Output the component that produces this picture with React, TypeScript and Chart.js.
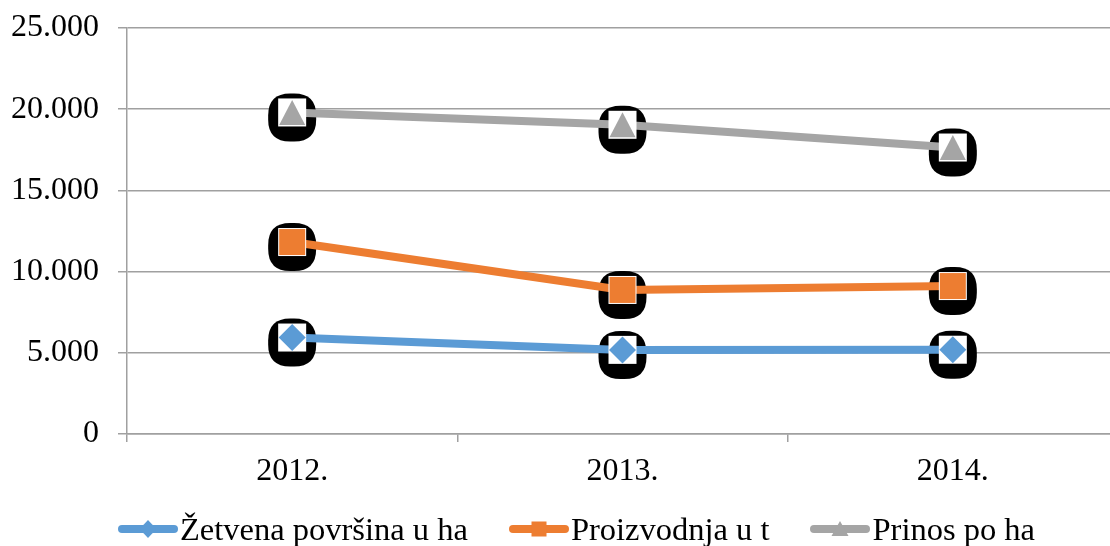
import React, { useEffect, useRef } from "react";
import { Chart, registerables } from "chart.js";

Chart.register(...registerables);

// ---- Data ----
const categories = ["2012.", "2013.", "2014."];
const zetvenaPovrsina = [5940, 5180, 5190];
const proizvodnja = [11820, 8870, 9110];
const prinos = [19800, 19040, 17640];
const yTickLabels = ["0", "5.000", "10.000", "15.000", "20.000", "25.000"];
const seriesNames = ["Žetvena površina u ha", "Proizvodnja u t", "Prinos po ha"];

// ---- Styles ----
const seriesColors = ["#5B9BD5", "#ED7D31", "#A5A5A5"];
const markerShapes = ["diamond", "square", "triangle"];
const FONT = "'Liberation Serif', 'Times New Roman', serif";
const GRID = "#a0a0a0";

function roundRectPath(ctx: CanvasRenderingContext2D, x: number, y: number, w: number, h: number, r: number) {
  ctx.beginPath();
  ctx.moveTo(x + r, y);
  ctx.lineTo(x + w - r, y);
  ctx.quadraticCurveTo(x + w, y, x + w, y + r);
  ctx.lineTo(x + w, y + h - r);
  ctx.quadraticCurveTo(x + w, y + h, x + w - r, y + h);
  ctx.lineTo(x + r, y + h);
  ctx.quadraticCurveTo(x, y + h, x, y + h - r);
  ctx.lineTo(x, y + r);
  ctx.quadraticCurveTo(x, y, x + r, y);
  ctx.closePath();
}

function drawMarker(ctx: CanvasRenderingContext2D, shape: string, x: number, y: number, color: string) {
  ctx.fillStyle = color;
  ctx.beginPath();
  if (shape === "diamond") {
    const r = 13.5;
    ctx.moveTo(x, y - r);
    ctx.lineTo(x + r, y);
    ctx.lineTo(x, y + r);
    ctx.lineTo(x - r, y);
    ctx.closePath();
  } else if (shape === "square") {
    ctx.rect(x - 13, y - 13, 26, 26);
  } else {
    ctx.moveTo(x, y - 12.5);
    ctx.lineTo(x + 13, y + 12.5);
    ctx.lineTo(x - 13, y + 12.5);
    ctx.closePath();
  }
  ctx.fill();
}

const markerPlugin = {
  id: "excelMarkers",
  beforeDatasetsDraw(chart: any) {
    const ctx: CanvasRenderingContext2D = chart.ctx;
    ctx.save();
    ctx.fillStyle = "#000";
    chart.data.datasets.forEach((_ds: any, i: number) => {
      const meta = chart.getDatasetMeta(i);
      meta.data.forEach((pt: any) => {
        roundRectPath(ctx, pt.x - 24, pt.y + 5 - 24, 48, 48, 22);
        ctx.fill();
      });
    });
    ctx.restore();
  },
  afterDatasetDraw(chart: any, args: any) {
    const ctx: CanvasRenderingContext2D = chart.ctx;
    const i = args.index;
    ctx.save();
    args.meta.data.forEach((pt: any) => {
      ctx.fillStyle = "#ffffff";
      ctx.fillRect(pt.x - 14, pt.y - 14, 28, 28);
      drawMarker(ctx, markerShapes[i], pt.x, pt.y, seriesColors[i]);
    });
    ctx.restore();
  },
};

function LegendIcon({ shape, color }: { shape: string; color: string }) {
  let marker: any;
  if (shape === "diamond") {
    marker = <polygon points="30,1 38.5,10 30,19 21.5,10" fill={color} />;
  } else if (shape === "square") {
    marker = <rect x={22.5} y={2.5} width={15} height={15} fill={color} />;
  } else {
    marker = <polygon points="30,2 38.5,17 21.5,17" fill={color} />;
  }
  return (
    <svg width={60} height={20} style={{ display: "block", flex: "none" }}>
      <line x1={4} y1={10} x2={56} y2={10} stroke={color} strokeWidth={8} strokeLinecap="round" />
      {marker}
    </svg>
  );
}

export default function App() {
  const canvasRef = useRef<HTMLCanvasElement | null>(null);

  useEffect(() => {
    const canvas = canvasRef.current;
    if (!canvas) return;
    const seriesData = [zetvenaPovrsina, proizvodnja, prinos];
    const chart = new Chart(canvas, {
      type: "line",
      data: {
        labels: categories,
        datasets: seriesData.map((d, i) => ({
          label: seriesNames[i],
          data: d,
          borderColor: seriesColors[i],
          backgroundColor: seriesColors[i],
          borderWidth: 8,
          tension: 0,
          pointRadius: 0,
          pointHoverRadius: 0,
          fill: false,
        })),
      },
      options: {
        responsive: false,
        animation: false,
        devicePixelRatio: 1,
        layout: { padding: { top: 28, left: 0, right: 2, bottom: 52 } },
        plugins: {
          legend: { display: false },
          tooltip: { enabled: false },
        },
        events: [],
        scales: {
          x: {
            type: "category",
            offset: true,
            grid: {
              display: true,
              drawOnChartArea: false,
              drawTicks: true,
              tickLength: 8,
              offset: true,
              color: GRID,
              lineWidth: 1.5,
            },
            border: { display: true, color: GRID, width: 1.5 },
            ticks: {
              color: "#000",
              padding: 10,
              font: { family: FONT, size: 32 },
              maxRotation: 0,
            },
            afterFit(scale: any) {
              scale.height = 60;
              scale.paddingLeft = 0;
              scale.paddingRight = 0;
            },
          },
          y: {
            min: 0,
            max: 25000,
            grid: {
              color: GRID,
              lineWidth: 1.5,
              tickLength: 9,
              drawTicks: true,
            },
            border: { display: true, color: GRID, width: 1.5 },
            ticks: {
              stepSize: 5000,
              color: "#000",
              padding: 19,
              font: { family: FONT, size: 32 },
              callback: (_v: any, idx: number) => yTickLabels[idx],
            },
            afterFit(scale: any) {
              scale.width = 127;
              scale.paddingTop = 0;
              scale.paddingBottom = 0;
            },
          },
        },
      },
      plugins: [markerPlugin],
    } as any);
    return () => chart.destroy();
  }, []);

  return (
    <div
      style={{
        position: "fixed",
        left: 0,
        top: 0,
        width: 1110,
        height: 546,
        overflow: "hidden",
        background: "#fff",
      }}
    >
      <canvas ref={canvasRef} width={1120} height={546} style={{ display: "block" }} />
      <div
        style={{
          position: "absolute",
          left: 118,
          top: 511,
          display: "flex",
          alignItems: "center",
          gap: 41,
          whiteSpace: "nowrap",
          fontFamily: FONT,
          fontSize: 32.5,
          lineHeight: "36px",
          color: "#000",
        }}
      >
        {seriesNames.map((name, i) => (
          <div key={name} style={{ display: "flex", alignItems: "center" }}>
            <LegendIcon shape={markerShapes[i]} color={seriesColors[i]} />
            <span style={{ marginLeft: 2 }}>{name}</span>
          </div>
        ))}
      </div>
    </div>
  );
}
